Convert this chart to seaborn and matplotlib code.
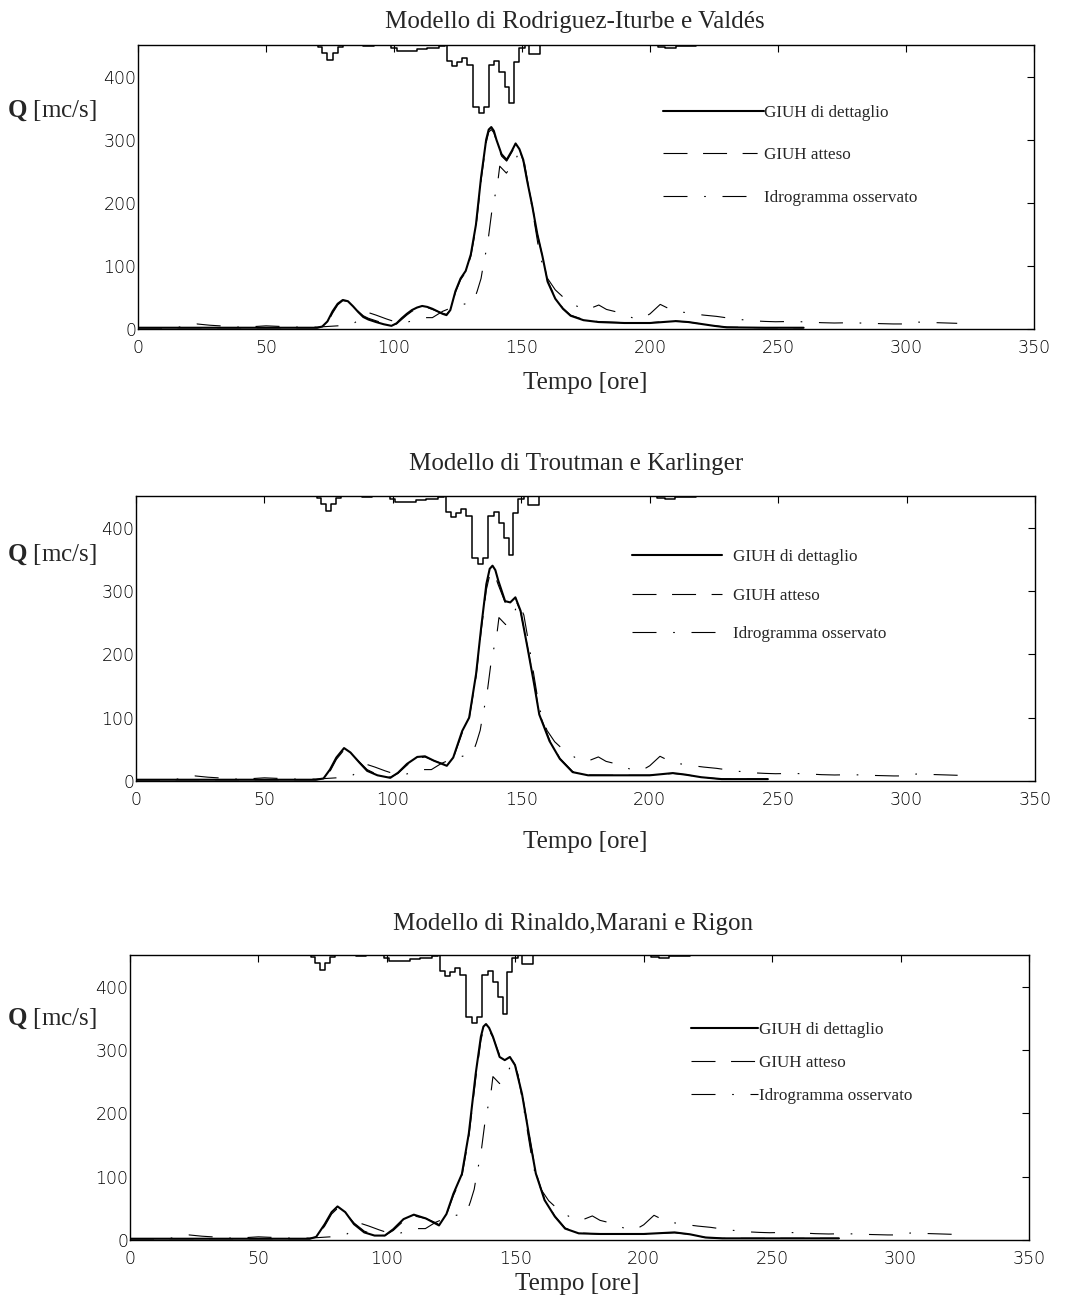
import matplotlib
matplotlib.use("Agg")
import matplotlib.pyplot as plt
import seaborn as sns

W, H = 1067, 1297

# ---------------- data ----------------
# rainfall hyetograph hanging from the top of each panel: step start [h], depth below 450 [Q units]
rain_t = [68, 70.3, 72, 74, 76, 78, 80, 88, 92, 98.7, 101, 109, 113, 117.5, 120,
          120.8, 122.8, 124.7, 126.7, 128.6, 130.8, 133.2, 135.1, 137.1, 139.2,
          141.2, 143.2, 145.1, 146.8, 148.8, 151, 152.7, 157, 203, 206, 210, 214, 218]
rain_depth = [0, 3, 12, 23, 12, 3, 0.5, 2, 0.5, 5.5, 10, 7, 4, 2, 0,
              25, 33.5, 26.5, 20, 32, 98, 107, 98, 32, 25.5,
              42.5, 66, 92.5, 27.5, 5.5, 0.5, 14.5, 0.5, 2.5, 4, 2, 1, 1]

# observed hydrograph (same in all panels)
obs_t = [0, 10, 16, 20, 23, 28, 32, 36, 42, 50, 56, 62, 66, 70, 74, 78, 84, 88, 90, 93,
         97, 100, 103.5, 108, 111, 115, 119, 122, 125, 128, 131, 132.5, 134, 135, 136.6,
         138.6, 140.2, 141.3, 143.9, 147, 149, 151, 153, 155, 157, 160, 163, 167, 171, 175,
         180, 183, 187, 190, 193, 196.6, 200, 204, 207, 210, 214, 217, 221, 226, 233,
         240, 245, 249, 256, 262, 267, 272, 279, 285, 290, 295, 299, 300, 304, 308,
         312, 316, 320]
obs_q = [2, 2, 3, 6, 8, 6, 5, 3, 3, 5, 4, 3, 3, 3, 4, 5, 8, 20, 26, 22,
         16, 12, 9, 14, 18, 18, 28, 33, 37, 40, 43, 60, 80, 104, 136,
         199, 222, 258, 247, 265, 281, 262, 215, 165, 115, 80, 62, 47, 37, 30,
         38, 31, 27, 22, 18, 16, 24, 39, 33, 28, 26, 24, 22, 20, 16,
         13, 12, 11.5, 12, 11, 10, 9.5, 10, 9, 8.5, 8, 8, 10, 11, 10.5,
         10, 9.5, 9]

# Rodriguez-Iturbe e Valdes
riv_t = [0, 20, 40, 60, 70, 72, 74, 76, 78, 80, 82, 84, 86, 88, 90, 93, 96, 99, 101, 103,
         105, 107, 109, 111, 113, 115, 117, 119, 120.5, 122, 124, 126, 128, 130, 132, 134,
         136, 137, 138, 139, 140, 142, 144, 146, 147.5, 149, 150.5, 152, 154, 156, 158,
         160, 163, 166, 169, 174, 180, 190, 200, 205, 210, 215, 220, 225, 230, 245, 260]
riv_det_q = [2, 2, 2, 2, 2, 4, 12, 28, 40, 46, 44, 36, 27, 19, 15, 11, 7.5, 5, 9, 17,
             24, 30, 34, 36.5, 35, 32, 28, 24, 22, 30, 60, 80, 92, 118, 165, 240,
             300, 316, 320, 314, 300, 277, 268, 282, 294, 285, 268, 235, 195, 150, 115,
             75, 48, 32, 21, 14, 11, 9.5, 9.5, 11, 12.5, 11, 8, 5, 2.6, 2, 2]
riv_att_q = [2, 2, 2, 2, 2, 3, 10, 25, 38, 45, 44, 37, 28, 21, 17, 13, 9, 6, 8, 15,
             22, 28, 32, 34, 34, 31, 28, 25, 23, 30, 58, 78, 90, 115, 160, 235,
             295, 312, 316, 311, 298, 274, 266, 280, 291, 284, 266, 236, 196, 150, 115,
             76, 50, 33, 22, 15, 11.5, 10, 10, 11.5, 12.5, 11, 8, 5, 3, 2, 2]

# Troutman e Karlinger
tk_t = [0, 20, 40, 60, 70, 73, 75.5, 78, 81, 83.5, 87, 90, 94, 99, 102, 105.5, 109.5,
        112.5, 116, 121, 123.5, 127, 129.7, 132.4, 134.4, 136.4, 137.7, 138.8, 139.9,
        141, 143.7, 145.7, 147.7, 149.7, 152.4, 155, 157, 161, 165, 170, 176, 186, 200,
        209, 214, 220, 228, 246]
tk_det_q = [2, 2, 2, 2, 2, 4, 18, 37, 52, 45, 29, 16, 9, 5, 13, 27, 38, 39, 32, 24,
            37, 79, 100, 169, 243, 311, 335, 340, 333, 317, 284, 282, 290, 269, 211,
            153, 105, 63, 35, 14, 9, 9, 9, 12.5, 10, 6, 3, 3]
tk_att_q = [2, 2, 2, 2, 2, 3, 15, 34, 49, 44, 30, 18, 10, 6, 12, 25, 36, 38, 32, 25,
            36, 76, 98, 165, 238, 302, 325, 330, 323, 310, 282, 280, 287, 268, 212,
            155, 107, 65, 36, 15, 9.5, 9, 9, 12, 10, 6, 3, 3]

# Rinaldo, Marani e Rigon
rmr_t = [0, 20, 40, 60, 70, 72.5, 75.8, 78.5, 80.8, 83.8, 87.2, 91.2, 95.2, 99.2, 102.5,
         106.5, 110.5, 115.2, 120.3, 123.2, 125.9, 129.2, 131.9, 134.6, 136.6, 137.6,
         138.6, 139.8, 141.3, 143.9, 145.9, 147.9, 149.9, 152.6, 156, 158, 161.4, 165.4,
         169.4, 174.7, 183, 200, 212, 218, 224, 230.6, 276]
rmr_det_q = [2, 2, 2, 2, 2, 5, 25, 44, 53, 44, 25, 12, 7, 7, 17, 33, 40, 34, 23, 41,
             73, 104, 168, 263, 321, 337, 341, 335, 321, 289, 284, 289, 276, 231, 150,
             105, 63, 37, 18, 10.5, 9.5, 9.5, 12, 9, 4, 2.6, 2.6]
rmr_att_q = [2, 2, 2, 2, 2, 4, 22, 41, 50, 43, 27, 14, 8, 7, 15, 30, 38, 34, 25, 40,
             70, 100, 162, 255, 315, 332, 336, 331, 320, 292, 288, 290, 277, 233, 152,
             107, 64, 38, 19, 11, 9.5, 9.5, 11.5, 9, 4, 2.6, 2.6]

titles = ["Modello di Rodriguez-Iturbe e Valdés",
          "Modello di Troutman e Karlinger",
          "Modello di Rinaldo,Marani e Rigon"]
legend_labels = ["GIUH di dettaglio", "GIUH atteso", "Idrogramma osservato"]
x_ticks = [0, 50, 100, 150, 200, 250, 300, 350]
y_ticks = [0, 100, 200, 300, 400]
y_label = r"$\mathbf{Q}$ [mc/s]"
x_label = "Tempo [ore]"
Y_TOP = 450

# ---------------- style ----------------
sns.set_theme(style="white")
plt.rcParams.update({
    "font.family": ["Liberation Serif", "DejaVu Serif"],
    "mathtext.fontset": "custom",
    "mathtext.rm": "Liberation Serif",
    "mathtext.bf": "Liberation Serif:bold",
    "axes.edgecolor": "black",
    "axes.linewidth": 1.0,
    "axes.facecolor": "white",
    "figure.facecolor": "white",
})

fig = plt.figure(figsize=(W / 100, H / 100), dpi=100)

THIN = 0.8
DASHED = (0, (21.6, 14))
DASHDOT = (0, (21.6, 15, 1.5, 15))
DASHED_LEG = [21.6, 14, 21.6, 14, 13.5, 80]
DASHDOT_LEG = [21.6, 15, 1.5, 15, 21.6, 80]

panels = [
    dict(rect=(138, 1034, 45, 329), det=(riv_t, riv_det_q), att=(riv_t, riv_att_q),
         title_xy=(575, 22), ylab_xy=(52, 111), xlab_xy=(585, 383),
         anchor=(205, 355), hl=5.9, htp=0.05, lsp=1.54),
    dict(rect=(136, 1035, 496, 781), det=(tk_t, tk_det_q), att=(tk_t, tk_att_q),
         title_xy=(576, 464), ylab_xy=(52, 555), xlab_xy=(585, 842),
         anchor=(193, 366), hl=5.3, htp=0.6, lsp=1.31),
    dict(rect=(130, 1029, 955, 1240), det=(rmr_t, rmr_det_q), att=(rmr_t, rmr_att_q),
         title_xy=(573, 924), ylab_xy=(52, 1019), xlab_xy=(577, 1284),
         anchor=(218.6, 344), hl=3.9, htp=0.05, lsp=1.0),
]

rain_level = [Y_TOP - d for d in rain_depth]

for i, p in enumerate(panels):
    l, r, t, b = p["rect"]
    ax = fig.add_axes([l / W, 1 - b / H, (r - l) / W, (b - t) / H])

    sns.lineplot(x=rain_t, y=rain_level, ax=ax, color="black", lw=1.1,
                 drawstyle="steps-post", estimator=None)
    sns.lineplot(x=p["det"][0], y=p["det"][1], ax=ax, color="black", lw=1.5,
                 estimator=None, label=legend_labels[0])
    sns.lineplot(x=p["att"][0], y=p["att"][1], ax=ax, color="black", lw=THIN,
                 linestyle=DASHED, estimator=None, label=legend_labels[1])
    sns.lineplot(x=obs_t, y=obs_q, ax=ax, color="black", lw=THIN,
                 linestyle=DASHDOT, estimator=None, label=legend_labels[2])

    ax.set_xlim(0, 350)
    ax.set_ylim(0, Y_TOP)
    ax.set_xticks(x_ticks)
    ax.set_yticks(y_ticks)
    ax.set_xlabel("")
    ax.set_ylabel("")
    ax.tick_params(which="both", direction="in", top=True, right=True, length=5,
                   width=0.8, color="black", labelsize=12.5, labelcolor="black",
                   labelfontfamily="DejaVu Sans")
    ax.tick_params(axis="x", pad=7)
    ax.tick_params(axis="y", pad=1)
    for lab in ax.get_xticklabels() + ax.get_yticklabels():
        lab.set_fontweight("light")
    for s in ax.spines.values():
        s.set_visible(True)
        s.set_color("black")
        s.set_linewidth(1.0)

    handles, labels = ax.get_legend_handles_labels()
    leg = ax.legend(handles, labels, loc="upper left", bbox_to_anchor=p["anchor"],
                    bbox_transform=ax.transData, frameon=False, fontsize=12.3,
                    handlelength=p["hl"], handletextpad=p["htp"], labelspacing=p["lsp"],
                    borderpad=0, borderaxespad=0)
    leg.get_lines()[1].set_dashes(DASHED_LEG)
    leg.get_lines()[2].set_dashes(DASHDOT_LEG)

    fig.text(p["title_xy"][0] / W, 1 - p["title_xy"][1] / H, titles[i],
             ha="center", va="center", fontsize=18)
    fig.text(p["ylab_xy"][0] / W, 1 - p["ylab_xy"][1] / H, y_label,
             ha="center", va="center", fontsize=18)
    fig.text(p["xlab_xy"][0] / W, 1 - p["xlab_xy"][1] / H, x_label,
             ha="center", va="center", fontsize=18)

fig.savefig("out.png", dpi=100)
